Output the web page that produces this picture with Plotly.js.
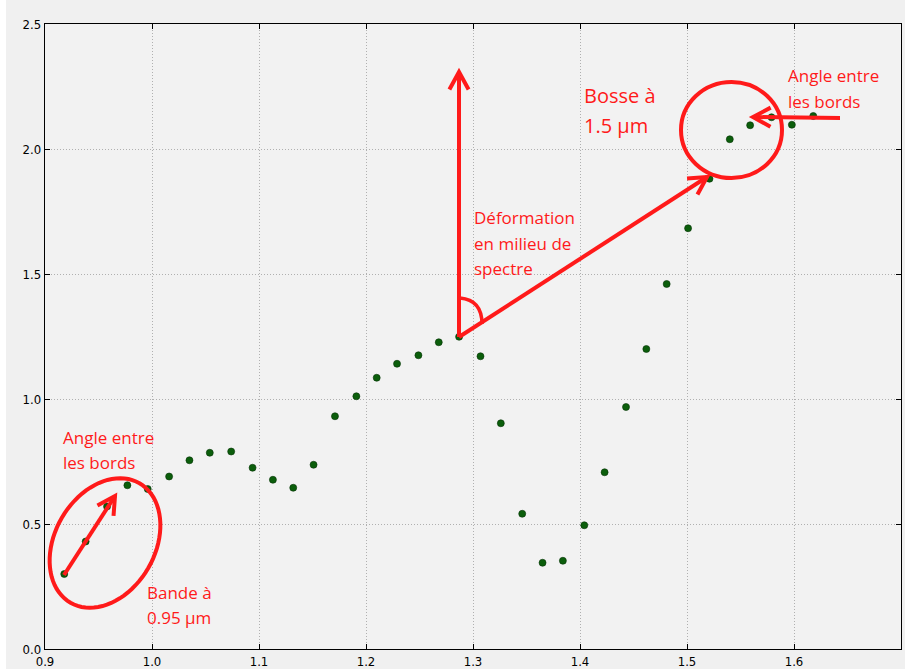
<!DOCTYPE html>
<html><head><meta charset="utf-8">
<script src="https://cdn.plot.ly/plotly-3.0.1.min.js"></script>
<style>html,body{margin:0;padding:0;background:#f0f0f0;}#chart{width:905px;height:669px;}</style>
</head><body><div id="chart"></div>
<script>
// Wavelength (µm)
const wavelength = [0.918,0.938,0.958,0.977,0.996,1.016,1.035,1.054,1.074,1.094,1.113,1.132,1.151,1.171,1.191,1.210,1.229,1.249,1.268,1.287,1.307,1.326,1.346,1.365,1.384,1.404,1.423,1.443,1.462,1.481,1.501,1.521,1.540,1.559,1.579,1.598,1.618];
// Reflectance values
const reflectance = [0.30,0.43,0.57,0.655,0.64,0.69,0.755,0.785,0.79,0.725,0.677,0.645,0.737,0.931,1.011,1.085,1.141,1.175,1.227,1.249,1.171,0.903,0.541,0.345,0.353,0.495,0.707,0.968,1.20,1.46,1.683,1.881,2.039,2.095,2.127,2.097,2.132];
const xTicks = [0.9,1.0,1.1,1.2,1.3,1.4,1.5,1.6,1.7];
const xTickText = ['0.9','1.0','1.1','1.2','1.3','1.4','1.5','1.6','1.7'];
const yTicks = [0.0,0.5,1.0,1.5,2.0,2.5];
const yTickText = ['0.0','0.5','1.0','1.5','2.0','2.5'];

// layout geometry (pixels) used for annotation drawing
const L = 45, R = 4, T = 24, B = 20, W = 905, H = 669;
const xmin = 0.9, xmax = 1.7, ymin = 0, ymax = 2.5;
const pw = W - L - R, ph = H - T - B;
function X(p){ return xmin + (p - L) / pw * (xmax - xmin); }
function Y(p){ return ymax - (p - T) / ph * (ymax - ymin); }
function P(px, py){ return X(px).toFixed(5) + ',' + Y(py).toFixed(5); }

const red = '#ff1a1a';
const shapes = [];
// white strip at the left edge of the picture
shapes.push({type:'rect', xref:'paper', yref:'paper', x0:-L/pw, x1:(6-L)/pw, y0:-B/ph, y1:1+T/ph, fillcolor:'#ffffff', line:{width:0}, layer:'below'});
function seg(pts){ // pixel points -> path
  return 'M' + pts.map(p => P(p[0], p[1])).join(' L');
}
function arrow(x0, y0, x1, y1){
  shapes.push({type:'path', xref:'x', yref:'y', path: seg([[x0,y0],[x1,y1]]), line:{color:red, width:4}});
  const ang = Math.atan2(y1 - y0, x1 - x0), len = 20, spread = 0.5;
  const a1 = [x1 - len*Math.cos(ang - spread), y1 - len*Math.sin(ang - spread)];
  const a2 = [x1 - len*Math.cos(ang + spread), y1 - len*Math.sin(ang + spread)];
  shapes.push({type:'path', xref:'x', yref:'y', path: seg([a1,[x1,y1],a2]), line:{color:red, width:4}});
}
// ellipse lower-left (tilted)
(function(){
  const cx = 105, cy = 543, a = 69, b = 50, th = 60*Math.PI/180, pts = [];
  for (let i = 0; i <= 80; i++){
    const t = i/80*2*Math.PI;
    pts.push([cx + a*Math.cos(t)*Math.cos(th) - b*Math.sin(t)*Math.sin(th),
              cy - (a*Math.cos(t)*Math.sin(th) + b*Math.sin(t)*Math.cos(th))]);
  }
  shapes.push({type:'path', xref:'x', yref:'y', path: seg(pts) + ' Z', line:{color:red, width:4}});
})();
// circle upper right
shapes.push({type:'circle', xref:'x', yref:'y', x0:X(681), x1:X(782), y0:Y(82), y1:Y(178), line:{color:red, width:4}});
// arrows
arrow(64, 575, 115, 496);
arrow(459, 337, 459, 72);
arrow(459, 337, 707, 177);
arrow(840, 118, 753, 117);
// angle arc
shapes.push({type:'path', xref:'x', yref:'y', path: 'M' + P(460,298) + ' Q' + P(482,300) + ' ' + P(482,324), line:{color:red, width:3.5}});

const txtFont = {family:'Open Sans, Noto Sans, sans-serif', size:17, color:red};
const bigFont = {family:'Open Sans, Noto Sans, sans-serif', size:20, color:red};
const labels = [
  ['Angle entre', 61, 437, txtFont], ['les bords', 61, 462, txtFont],
  ['Bande à', 145, 592, txtFont], ['0.95 µm', 145, 617, txtFont],
  ['Déformation', 472, 217, txtFont], ['en milieu de', 472, 243, txtFont], ['spectre', 472, 268, txtFont],
  ['Bosse à', 582, 95, bigFont], ['1.5 µm', 582, 125, bigFont],
  ['Angle entre', 786, 75, txtFont], ['les bords', 786, 101, txtFont]
];
const annotations = labels.map(l => ({text:l[0], x:X(l[1]), y:Y(l[2]), xref:'x', yref:'y', xanchor:'left', yanchor:'middle', showarrow:false, font:l[3]}));

const axisCommon = {showline:true, linecolor:'#000', linewidth:1.2, mirror:'allticks', ticks:'inside', ticklen:5, tickcolor:'#000',
  showgrid:true, gridcolor:'#b0b0b0', griddash:'1px,2px', gridwidth:1, zeroline:false,
  tickfont:{family:'DejaVu Sans Condensed, Liberation Sans Narrow, sans-serif', size:13, color:'#000'}};

Plotly.newPlot('chart', [{
  type:'scatter', mode:'markers', x:wavelength, y:reflectance,
  marker:{color:'#0b5e0b', size:7, line:{color:'#053305', width:0.6}}
}], {
  width:W, height:H, margin:{l:L, r:R, t:T, b:B},
  paper_bgcolor:'#f0f0f0', plot_bgcolor:'#f2f2f2', showlegend:false,
  xaxis:Object.assign({}, axisCommon, {range:[xmin,xmax], tickvals:xTicks, ticktext:xTickText}),
  yaxis:Object.assign({}, axisCommon, {range:[ymin,ymax], tickvals:yTicks, ticktext:yTickText}),
  shapes:shapes, annotations:annotations
}, {staticPlot:true});
</script></body></html>
